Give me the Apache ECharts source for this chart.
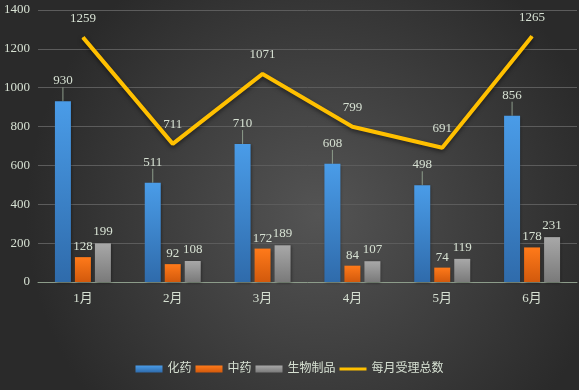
<!DOCTYPE html>
<html>
<head>
<meta charset="utf-8">
<script src="https://cdn.jsdelivr.net/npm/echarts@6/dist/echarts.min.js"></script>
<style>
html,body{margin:0;padding:0;background:#2c2c2c;}
#c{width:579px;height:390px;}
</style>
</head>
<body>
<div id="c"></div>
<script>
const categories = ['1月','2月','3月','4月','5月','6月'];
const huayao = [930, 511, 710, 608, 498, 856];
const zhongyao = [128, 92, 172, 84, 74, 178];
const shengwu = [199, 108, 189, 107, 119, 231];
const total = [1259, 711, 1071, 799, 691, 1265];
const yTicks = [0, 200, 400, 600, 800, 1000, 1200, 1400];

const txt = '#d6e0d2';
const font = '"Liberation Serif", "DejaVu Serif", "Noto Sans CJK SC", serif';

function grad(top, bottom){
  return new echarts.graphic.LinearGradient(0,0,0,1,[{offset:0,color:top},{offset:1,color:bottom}]);
}

const chart = echarts.init(document.getElementById('c'));
chart.setOption({
  backgroundColor: new echarts.graphic.RadialGradient(0.55,0.55,0.75,[
    {offset:0,color:'#545454'},{offset:1,color:'#2a2a2a'}
  ]),
  textStyle:{fontFamily:font},
  grid:{left:38,right:2,top:10,bottom:108},
  legend:{
    bottom:10, left:'center',
    itemWidth:27, itemHeight:7, itemGap:4,
    textStyle:{color:txt,fontSize:12,fontFamily:font},
    data:[
      {name:'化药', icon:'rect'},
      {name:'中药', icon:'rect'},
      {name:'生物制品', icon:'rect'},
      {name:'每月受理总数', icon:'path://M0,0 L27,0 L27,3 L0,3 Z'}
    ]
  },
  xAxis:{
    type:'category', data:categories,
    axisLine:{lineStyle:{color:'#8c9c8a',width:1}},
    axisTick:{show:false},
    axisLabel:{color:txt,fontSize:13,margin:10,fontFamily:font}
  },
  yAxis:{
    type:'value', min:0, max:1400, interval:200,
    axisLine:{show:false}, axisTick:{show:false},
    axisLabel:{color:txt,fontSize:13,margin:8,fontFamily:font,
      formatter:function(v){return yTicks.indexOf(v)>=0? String(v):'';}},
    splitLine:{lineStyle:{color:'#5c5c5c',width:1}}
  },
  series:[
    {
      name:'化药', type:'bar', data:huayao, barWidth:16, barGap:'25%',
      itemStyle:{color:grad('#4a9ce8','#2f6bab'), shadowColor:'rgba(0,0,0,0.4)', shadowBlur:3, shadowOffsetX:1, shadowOffsetY:1},
      label:{show:true, position:'top', distance:4, color:txt, fontSize:13, fontFamily:font},
      labelLayout:{dy:-10},
      labelLine:{show:true, lineStyle:{color:'#8c9c8a',width:1}}
    },
    {
      name:'中药', type:'bar', data:zhongyao, barWidth:16, barGap:'25%',
      itemStyle:{color:grad('#ff7a1a','#d2590c'), shadowColor:'rgba(0,0,0,0.4)', shadowBlur:3, shadowOffsetX:1, shadowOffsetY:1},
      label:{show:true, position:'top', distance:4, color:txt, fontSize:13, fontFamily:font}
    },
    {
      name:'生物制品', type:'bar', data:shengwu, barWidth:16, barGap:'25%',
      itemStyle:{color:grad('#a8a8a8','#7a7a7a'), shadowColor:'rgba(0,0,0,0.4)', shadowBlur:3, shadowOffsetX:1, shadowOffsetY:1},
      label:{show:true, position:'top', distance:5, color:txt, fontSize:13, fontFamily:font}
    },
    {
      name:'每月受理总数', type:'line', data:total, symbol:'circle', symbolSize:1,
      lineStyle:{color:'#ffc000', width:4, shadowColor:'rgba(0,0,0,0.5)', shadowBlur:4, shadowOffsetY:2},
      itemStyle:{color:'#ffc000'},
      label:{show:true, position:'top', distance:12, color:txt, fontSize:13, fontFamily:font},
      z:5
    }
  ]
});
</script>
</body>
</html>
